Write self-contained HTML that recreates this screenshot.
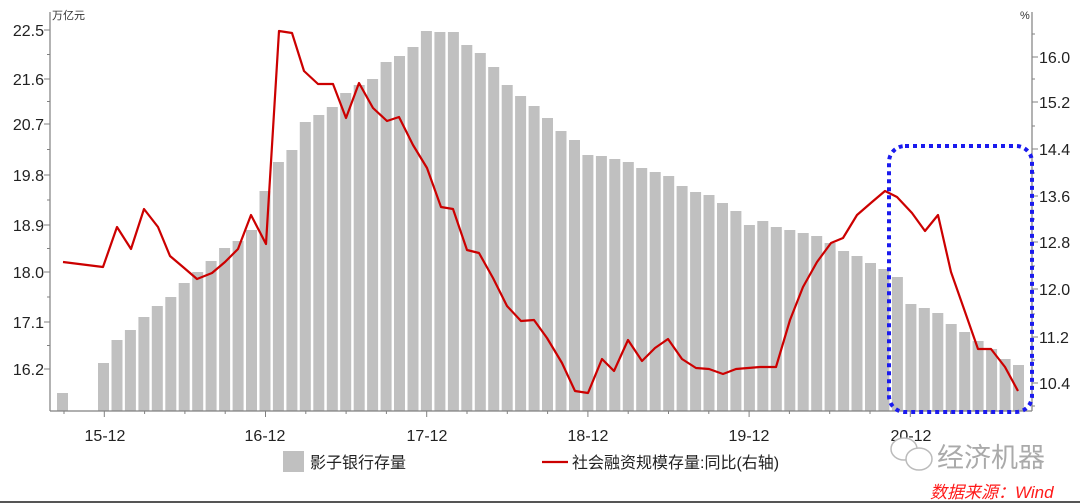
<!DOCTYPE html>
<html><head><meta charset="utf-8">
<style>
html,body{margin:0;padding:0;background:#fff;}
svg{display:block;font-family:"Liberation Sans","Noto Sans CJK SC",sans-serif;}
</style></head>
<body>
<svg id="c" width="1080" height="503" viewBox="0 0 1080 503" xmlns="http://www.w3.org/2000/svg">
<rect width="1080" height="503" fill="#fff"/>
<g id="bars" fill="#c0c0c0"></g>
<polyline id="line" fill="none" stroke="#cc0000" stroke-width="2.2" stroke-linejoin="round" points=""/>
<g stroke="#808080" stroke-width="1.2" fill="none">
<line x1="50" y1="12" x2="50" y2="411"/>
<line x1="1032" y1="12" x2="1032" y2="411"/>
<line x1="50" y1="411" x2="1032" y2="411"/>
</g>
<g id="ticks" stroke="#808080" stroke-width="1"></g>
<g font-size="16" fill="#222" text-anchor="end">
<text x="44" y="36">22.5</text><text x="44" y="85">21.6</text><text x="44" y="130">20.7</text>
<text x="44" y="181">19.8</text><text x="44" y="231">18.9</text><text x="44" y="278">18.0</text>
<text x="44" y="328">17.1</text><text x="44" y="375">16.2</text>
</g>
<g font-size="16" fill="#222">
<text x="1039" y="63">16.0</text><text x="1039" y="108">15.2</text><text x="1039" y="155">14.4</text>
<text x="1039" y="202">13.6</text><text x="1039" y="248">12.8</text><text x="1039" y="295">12.0</text>
<text x="1039" y="343">11.2</text><text x="1039" y="389">10.4</text>
</g>
<text x="52" y="19" font-size="11" fill="#333">万亿元</text>
<text x="1020" y="19" font-size="11" fill="#333">%</text>
<g font-size="16" fill="#222" text-anchor="middle">
<text x="105" y="441">15-12</text><text x="265" y="441">16-12</text><text x="427" y="441">17-12</text>
<text x="588" y="441">18-12</text><text x="749" y="441">19-12</text><text x="911" y="441">20-12</text>
</g>
<rect x="283" y="451" width="21" height="21" fill="#c0c0c0"/>
<text x="310" y="468" font-size="16" fill="#222">影子银行存量</text>
<line x1="542" y1="462" x2="568" y2="462" stroke="#cc0000" stroke-width="2.2"/>
<text x="572" y="468" font-size="16" fill="#222">社会融资规模存量:同比(右轴)</text>
<rect x="889" y="146" width="143" height="266" rx="16" ry="16" fill="none" stroke="#1a1aee" stroke-width="4" stroke-dasharray="4 4"/>
<g fill="none" stroke="#bbb" stroke-width="1.5">
<ellipse cx="904" cy="449" rx="13" ry="11" fill="#fff"/>
<ellipse cx="919" cy="459" rx="13" ry="11" fill="#fff"/>
</g>
<text x="937" y="467" font-size="27" fill="#aaa">经济机器</text>
<text x="930" y="498" font-size="17" fill="#ff1a1a" font-style="italic">数据来源：Wind</text>
<line x1="0" y1="502" x2="1080" y2="502" stroke="#555" stroke-width="2"/>
</svg>
<script>
var tops=[363,340,330,317,306,297,283,272,261,248,241,230,191,162,150,122,115,107,93,85,79,62,56,47,31,32,
32,45,53,67,85,96,106,118,131,140,155,156,159,162,168,172,176,186,192,195,203,211,225,221,227,230,233,236,243,251,256,263,269,277,304,308,313,324,332,341,349,359,365];
var g=document.getElementById('bars'),h='';
h+='<rect x="57" y="393" width="11" height="18"/>';
for(var i=0;i<tops.length;i++){var x=98+i*13.456;h+='<rect x="'+x.toFixed(1)+'" y="'+tops[i]+'" width="11" height="'+(411-tops[i])+'"/>';}
g.innerHTML=h;
var pts=[[63,262],[103,267],[117,227],[131,249],[144,209],[158,227],[170,256],[183,267],[197,279],[212,273],[225,262],[238,249],[251,215],[266,244],[279,31],[292,33],[304,71],[318,84],[333,84],[346,118],[359,83],[373,108],[387,121],[399,117],[413,145],[427,168],[441,207],[453,209],[467,250],[479,253],[493,278],[507,306],[521,321],[534,320],[547,338],[562,363],[575,391],[588,393],[602,359],[614,371],[628,340],[642,361],[655,348],[668,339],[682,359],[696,368],[709,369],[723,374],[736,369],[748,368],[760,367],[776,367],[790,320],[803,287],[817,262],[831,243],[843,238],[857,215],[872,202],[885,191],[897,197],[912,213],[925,231],[938,215],[951,272],[964,309],[978,349],[991,349],[1005,367],[1018,391]];
document.getElementById('line').setAttribute('points',pts.map(function(p){return p.join(',')}).join(' '));
var t='';
var L=[30,79,124,175,225,272,322,369];
for(var i=0;i<L.length;i++){t+='<line x1="44" y1="'+L[i]+'" x2="50" y2="'+L[i]+'"/>';if(i<L.length-1){var m=(L[i]+L[i+1])/2;t+='<line x1="47" y1="'+m+'" x2="50" y2="'+m+'"/>';}}
var R=[57,102,149,196,242,289,337,383];
for(var i=0;i<R.length;i++){t+='<line x1="1032" y1="'+R[i]+'" x2="1038" y2="'+R[i]+'"/>';var m=R[i]-23;t+='<line x1="1032" y1="'+m+'" x2="1035" y2="'+m+'"/>';}
t+='<line x1="1032" y1="406" x2="1035" y2="406"/>';
for(var k=0;k<24;k++){var x=64+k*40.3;var big=((k-1)%4==0);t+='<line x1="'+x.toFixed(1)+'" y1="411" x2="'+x.toFixed(1)+'" y2="'+(big?417:414)+'"/>';}
document.getElementById('ticks').innerHTML=t;
</script>
</body></html>
